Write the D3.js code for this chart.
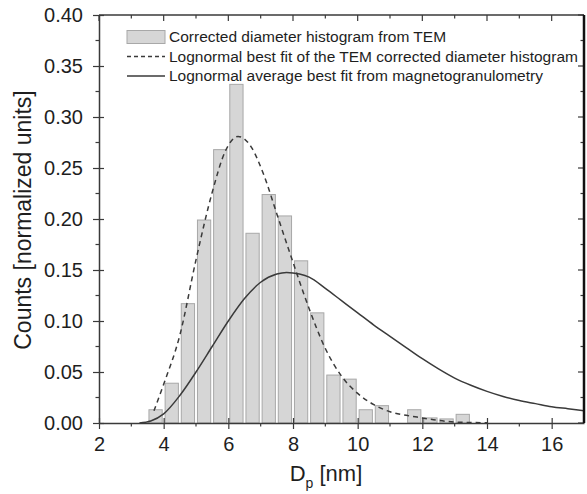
<!DOCTYPE html>
<html>
<head>
<meta charset="utf-8">
<script src="https://cdnjs.cloudflare.com/ajax/libs/d3/7.8.5/d3.min.js"></script>
<style>
  body { margin: 0; background: #fff; }
  svg { display: block; font-family: "Liberation Sans", Arial, sans-serif; }
</style>
</head>
<body>
<svg width="587" height="494"></svg>
<script>
// histogram bins (centres, nm) and normalized counts
var binCenters = [3.75, 4.25, 4.75, 5.25, 5.75, 6.25, 6.75, 7.25, 7.75, 8.25, 8.75, 9.25, 9.75, 10.25, 10.75, 11.25, 11.75, 12.25, 12.75, 13.25];
var binCounts = [0.013, 0.039, 0.117, 0.199, 0.268, 0.332, 0.186, 0.224, 0.203, 0.159, 0.108, 0.047, 0.043, 0.013, 0.017, 0, 0.013, 0.005, 0.004, 0.0085];

// lognormal fit of TEM histogram
var temFitX = [3.7, 4.0, 4.5, 5.0, 5.5, 5.9, 6.3, 6.7, 7.1, 7.5, 7.9, 8.5, 9.0, 9.5, 10.0, 10.5, 11.0, 11.5, 12.0, 12.5, 13.0, 13.5, 14.0];
var temFitY = [0.012, 0.038, 0.086, 0.160, 0.226, 0.266, 0.281, 0.271, 0.243, 0.205, 0.167, 0.112, 0.073, 0.046, 0.029, 0.018, 0.011, 0.0075, 0.005, 0.0025, 0.001, 0.0005, 0.0002];

// lognormal average from magnetogranulometry
var magFitX = [3.25, 3.6, 4.0, 4.5, 5.0, 5.5, 6.0, 6.5, 7.0, 7.5, 7.8, 8.2, 8.5, 9.0, 9.5, 10.0, 10.5, 11.0, 11.5, 12.0, 12.5, 13.0, 13.5, 14.0, 14.5, 15.0, 15.5, 16.0, 16.5, 17.0];
var magFitY = [0, 0.002, 0.009, 0.027, 0.050, 0.075, 0.100, 0.122, 0.138, 0.146, 0.1475, 0.146, 0.143, 0.132, 0.120, 0.108, 0.096, 0.085, 0.074, 0.063, 0.053, 0.044, 0.037, 0.031, 0.026, 0.022, 0.019, 0.016, 0.014, 0.012];

var xTicks = [2, 4, 6, 8, 10, 12, 14, 16];
var yTicks = [0, 0.05, 0.10, 0.15, 0.20, 0.25, 0.30, 0.35, 0.40];

var legendLabels = [
  'Corrected diameter histogram from TEM',
  'Lognormal best fit of the TEM corrected diameter histogram',
  'Lognormal average best fit from magnetogranulometry'
];

var mLeft = 99, mRight = 584, mTop = 15, mBottom = 423;
var ink = '#3a3a3a';

var x = d3.scaleLinear().domain([2, 17]).range([mLeft, mRight]);
var y = d3.scaleLinear().domain([0, 0.40]).range([mBottom, mTop]);

var svg = d3.select('svg');

svg.append('clipPath').attr('id', 'plot')
  .append('rect')
  .attr('x', mLeft).attr('y', mTop)
  .attr('width', mRight - mLeft).attr('height', mBottom - mTop);

// bars
var halfW = 0.205;
svg.append('g')
  .selectAll('rect')
  .data(binCenters.map(function(c, i) { return { c: c, v: binCounts[i] }; })
    .filter(function(d) { return d.v > 0; }))
  .enter()
  .append('rect')
  .attr('x', function(d) { return x(d.c - halfW); })
  .attr('width', function(d) { return x(d.c + halfW) - x(d.c - halfW); })
  .attr('y', function(d) { return y(d.v); })
  .attr('height', function(d) { return y(0) - y(d.v); })
  .attr('fill', '#d6d6d6')
  .attr('stroke', '#a8a8a8')
  .attr('stroke-width', 1);

var line = d3.line()
  .x(function(d) { return x(d[0]); })
  .y(function(d) { return y(d[1]); })
  .curve(d3.curveMonotoneX);

var curves = svg.append('g').attr('clip-path', 'url(#plot)');

curves.append('path')
  .attr('d', line(temFitX.map(function(v, i) { return [v, temFitY[i]]; })))
  .attr('fill', 'none')
  .attr('stroke', ink)
  .attr('stroke-width', 1.5)
  .attr('stroke-dasharray', '5,4');

curves.append('path')
  .attr('d', line(magFitX.map(function(v, i) { return [v, magFitY[i]]; })))
  .attr('fill', 'none')
  .attr('stroke', ink)
  .attr('stroke-width', 1.5);

// axes: bottom/left with crossing majors and outward minors, top/right ticks inward
var xMinor = d3.range(3, 17, 2);
var yMinor = d3.range(0.025, 0.40, 0.05);

var bottomAxis = svg.append('g')
  .attr('transform', 'translate(0,' + mBottom + ')')
  .call(d3.axisBottom(x).tickValues(xTicks).tickFormat(d3.format('d')).tickSize(6).tickSizeOuter(0).tickPadding(8));
bottomAxis.selectAll('.tick line').attr('y1', -5);
bottomAxis.append('g').selectAll('line')
  .data(xMinor).enter().append('line')
  .attr('x1', x).attr('x2', x).attr('y1', 0).attr('y2', 3.5);

var leftAxis = svg.append('g')
  .attr('transform', 'translate(' + mLeft + ',0)')
  .call(d3.axisLeft(y).tickValues(yTicks).tickFormat(d3.format('.2f')).tickSize(6).tickSizeOuter(0).tickPadding(10));
leftAxis.selectAll('.tick line').attr('x1', 5);
leftAxis.append('g').selectAll('line')
  .data(yMinor).enter().append('line')
  .attr('y1', y).attr('y2', y).attr('x1', 0).attr('x2', -3.5);

var topAxis = svg.append('g')
  .attr('transform', 'translate(0,' + mTop + ')');
topAxis.selectAll('line')
  .data(xTicks.concat(xMinor)).enter().append('line')
  .attr('x1', x).attr('x2', x).attr('y1', 0)
  .attr('y2', function(d) { return d % 2 === 0 ? 6 : 3.5; });

var rightAxis = svg.append('g')
  .attr('transform', 'translate(' + mRight + ',0)');
rightAxis.selectAll('line')
  .data(yTicks.concat(yMinor)).enter().append('line')
  .attr('y1', y).attr('y2', y).attr('x1', 0)
  .attr('x2', function(d, i) { return i < yTicks.length ? -6 : -3.5; });

svg.selectAll('.domain').attr('stroke', ink).attr('stroke-width', 1.5);
svg.selectAll('line').filter(function() { return !this.getAttribute('stroke') || this.getAttribute('stroke') === 'currentColor'; })
  .attr('stroke', ink).attr('stroke-width', 1.2);

svg.selectAll('.tick text')
  .attr('fill', '#1e1e1e')
  .style('font-size', '20px');

// frame top and right
svg.append('line').attr('x1', mLeft).attr('x2', mRight).attr('y1', mTop).attr('y2', mTop)
  .attr('stroke', ink).attr('stroke-width', 1.5);
svg.append('line').attr('x1', mRight).attr('x2', mRight).attr('y1', mTop).attr('y2', mBottom)
  .attr('stroke', '#111').attr('stroke-width', 2.5);

// axis titles
var xt = svg.append('text')
  .attr('x', 326)
  .attr('y', 481)
  .attr('text-anchor', 'middle')
  .attr('fill', '#1e1e1e')
  .style('font-size', '22px');
xt.append('tspan').text('D');
xt.append('tspan').attr('dy', 7).style('font-size', '14px').text('p');
xt.append('tspan').attr('dy', -7).text(' [nm]');

svg.append('text')
  .attr('transform', 'translate(31,220) rotate(-90)')
  .attr('text-anchor', 'middle')
  .attr('fill', '#1e1e1e')
  .style('font-size', '23px')
  .text('Counts [normalized units]');

// legend
var legend = svg.append('g');
var rowY = [37, 56.5, 76];
legend.append('rect')
  .attr('x', 127).attr('y', rowY[0] - 6.5)
  .attr('width', 38).attr('height', 13)
  .attr('fill', '#d6d6d6').attr('stroke', '#a8a8a8');
legend.append('line')
  .attr('x1', 127).attr('x2', 165).attr('y1', rowY[1]).attr('y2', rowY[1])
  .attr('stroke', ink).attr('stroke-width', 1.5).attr('stroke-dasharray', '4,3');
legend.append('line')
  .attr('x1', 127).attr('x2', 165).attr('y1', rowY[2]).attr('y2', rowY[2])
  .attr('stroke', ink).attr('stroke-width', 1.5);
legend.selectAll('text')
  .data(legendLabels).enter().append('text')
  .attr('x', 169)
  .attr('y', function(d, i) { return rowY[i] + 5; })
  .attr('fill', '#1e1e1e')
  .style('font-size', '15.5px')
  .text(function(d) { return d; });
</script>
</body>
</html>
